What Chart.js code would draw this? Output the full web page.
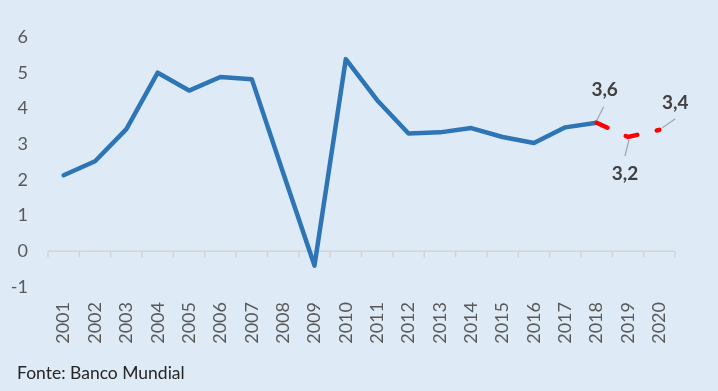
<!DOCTYPE html>
<html>
<head>
<meta charset="utf-8">
<script src="https://cdn.jsdelivr.net/npm/chart.js@4"></script>
<style>
  html, body { margin: 0; padding: 0; background: #deeaf6; }
  #wrap { position: relative; width: 718px; height: 391px; background: #deeaf6; }
  #footer {
    position: absolute; left: 17px; top: 362px;
    font-family: Lato, "Open Sans", sans-serif; font-size: 17.5px; color: #262626;
  }
</style>
</head>
<body>
<div id="wrap">
  <canvas id="gdpChart" width="718" height="391"></canvas>
  <div id="footer">Fonte: Banco Mundial</div>
</div>
<script>
// World GDP growth (%), actual and projection
const years = ['2001', '2002', '2003', '2004', '2005', '2006', '2007', '2008', '2009', '2010',
               '2011', '2012', '2013', '2014', '2015', '2016', '2017', '2018', '2019', '2020'];
const growth = [2.13, 2.52, 3.42, 5.0, 4.5, 4.88, 4.82, 2.2, -0.4, 5.38,
                4.23, 3.3, 3.33, 3.45, 3.2, 3.03, 3.47, 3.6, null, null];
const projection = [null, null, null, null, null, null, null, null, null, null,
                    null, null, null, null, null, null, null, 3.6, 3.2, 3.4];
const yTicks = [-1, 0, 1, 2, 3, 4, 5, 6];
const callouts = ['3,6', '3,2', '3,4']; // for the last three years

const FONT = 'Lato, "Open Sans", sans-serif';

const overlay = {
    id: 'overlay',
    beforeDatasetsDraw(chart) {
        const { ctx, chartArea, scales: { x, y } } = chart;
        const y0 = y.getPixelForValue(0);
        ctx.save();
        ctx.strokeStyle = '#d5d3d1';
        ctx.lineWidth = 1.5;
        ctx.beginPath();
        ctx.moveTo(chartArea.left, y0);
        ctx.lineTo(chartArea.right, y0);
        // tick marks on category boundaries
        const n = years.length;
        for (let i = 0; i <= n; i++) {
            let px;
            if (i === 0) px = chartArea.left;
            else if (i === n) px = chartArea.right;
            else px = (x.getPixelForValue(i - 1) + x.getPixelForValue(i)) / 2;
            ctx.moveTo(px, y0);
            ctx.lineTo(px, y0 + 6);
        }
        ctx.stroke();
        ctx.restore();
    },
    afterDatasetsDraw(chart) {
        const { ctx, scales: { x, y } } = chart;
        // label offset and leader line ends, relative to the point
        const place = [
            { lx: 8, ly: -33, a: [0, -2], b: [7, -16] },
            { lx: -3, ly: 37, a: [1, 3], b: [-3, 19] },
            { lx: 16, ly: -27, a: [3, -2], b: [16, -11] }
        ];
        const start = years.length - callouts.length;
        ctx.save();
        callouts.forEach((txt, k) => {
            const i = start + k;
            const px = x.getPixelForValue(i);
            const py = y.getPixelForValue(projection[i]);
            const p = place[k];
            ctx.strokeStyle = '#a6a6a6';
            ctx.lineWidth = 1.2;
            ctx.beginPath();
            ctx.moveTo(px + p.a[0], py + p.a[1]);
            ctx.lineTo(px + p.b[0], py + p.b[1]);
            ctx.stroke();
            ctx.fillStyle = '#404040';
            ctx.font = 'bold 19px ' + FONT;
            ctx.textAlign = 'center';
            ctx.textBaseline = 'middle';
            ctx.fillText(txt, px + p.lx, py + p.ly);
        });
        ctx.restore();
    }
};

new Chart(document.getElementById('gdpChart'), {
    type: 'line',
    data: {
        labels: years,
        datasets: [{
            data: growth,
            borderColor: '#2e75b6',
            borderWidth: 4.5,
            borderJoinStyle: 'round',
            borderCapStyle: 'round',
            pointRadius: 0,
            tension: 0,
            order: 2
        }, {
            data: projection,
            borderColor: '#ff0000',
            borderWidth: 4.5,
            borderDash: [12, 20],
            borderCapStyle: 'round',
            pointRadius: 0,
            tension: 0,
            order: 1
        }]
    },
    options: {
        responsive: false,
        animation: false,
        devicePixelRatio: 1,
        layout: { padding: { top: 37, right: 43, left: 0, bottom: 0 } },
        plugins: {
            legend: { display: false },
            tooltip: { enabled: false },
            title: { display: false }
        },
        scales: {
            x: {
                offset: true,
                grid: { display: false, drawTicks: false },
                border: { display: false },
                ticks: {
                    minRotation: 90,
                    maxRotation: 90,
                    autoSkip: false,
                    padding: 15,
                    color: '#595959',
                    font: { family: FONT, size: 18 }
                },
                afterFit(scale) { scale.height = 104; }
            },
            y: {
                min: yTicks[0],
                max: yTicks[yTicks.length - 1],
                grid: { display: false, drawTicks: false },
                border: { display: false },
                ticks: {
                    stepSize: 1,
                    padding: 20,
                    color: '#595959',
                    font: { family: FONT, size: 18 }
                },
                afterFit(scale) { scale.width = 48; }
            }
        }
    },
    plugins: [overlay]
});
</script>
</body>
</html>
